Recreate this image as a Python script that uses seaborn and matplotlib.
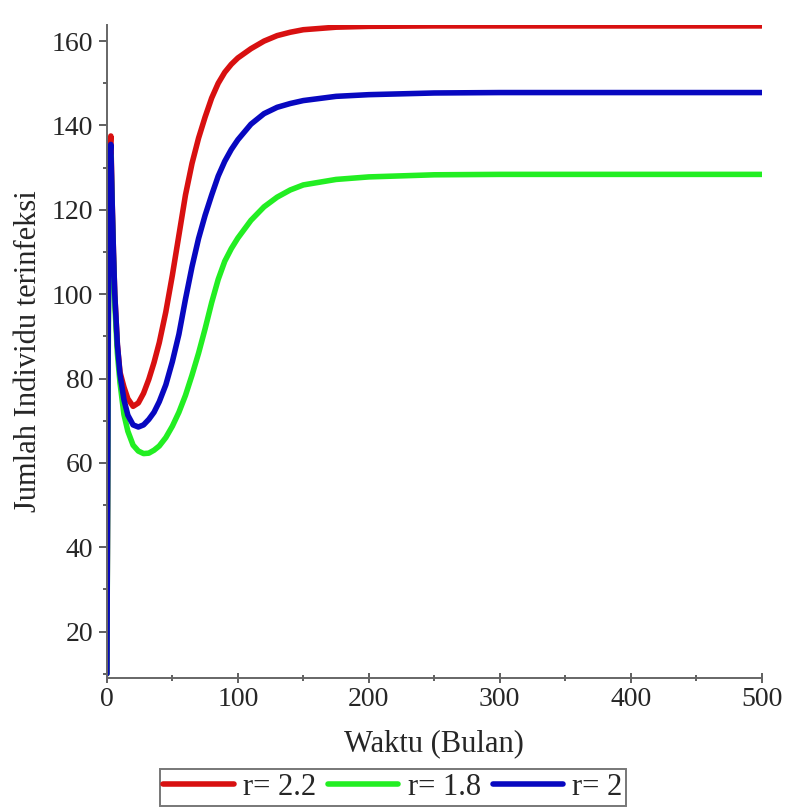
import numpy as np
import pandas as pd
import seaborn as sns
import matplotlib.pyplot as plt
from matplotlib.lines import Line2D
from matplotlib.ticker import MultipleLocator

# waktu (bulan)
t = [0, 1, 2, 3, 4, 5, 6, 8, 10, 13, 16, 20, 24, 28, 32, 36, 40, 45, 50, 55,
     60, 65, 70, 75, 80, 85, 90, 95, 100, 110, 120, 130, 140, 150, 175, 200,
     250, 300, 400, 500]

# r = 2.2
i_r22 = [10, 95, 134, 137.5, 122, 110, 100, 88, 81.5, 78,
         75.2, 73.4, 74.2, 76.5, 79.8, 83.8, 88.5, 95.8, 104.5, 114,
         123.5, 131, 137, 142, 146.5, 150, 152.6, 154.5, 156, 158.2,
         160, 161.3, 162.1, 162.7, 163.3, 163.5, 163.6, 163.6, 163.6, 163.6]

# r = 1.8
i_r18 = [10, 85, 128, 133, 120, 108, 98, 86, 79, 71.5,
         67.5, 64.2, 62.8, 62.2, 62.3, 63, 64, 66, 68.7, 72,
         76, 80.8, 86, 91.8, 98, 103.5, 107.8, 110.8, 113.3, 117.5,
         120.7, 123, 124.7, 125.9, 127.2, 127.8, 128.3, 128.4, 128.4, 128.4]

# r = 2
i_r2 = [10, 92, 132, 135.5, 122, 110, 100, 88, 81, 75,
        71.3, 69, 68.5, 69, 70.3, 72, 74.5, 78.5, 84, 90.5,
        98.8, 106.5, 113.2, 118.7, 123.5, 128, 131.5, 134.3, 136.6, 140.3,
        142.8, 144.3, 145.2, 145.9, 146.9, 147.3, 147.7, 147.8, 147.8, 147.8]

labels = ["r= 2.2", "r= 1.8", "r= 2"]
colors = ["#d81010", "#22ee22", "#0808c0"]

df = pd.concat([
    pd.DataFrame({"t": t, "I": i_r22, "r": labels[0]}),
    pd.DataFrame({"t": t, "I": i_r18, "r": labels[1]}),
    pd.DataFrame({"t": t, "I": i_r2, "r": labels[2]}),
])

sns.set_style("ticks")
plt.rcParams["font.family"] = ["Liberation Serif", "DejaVu Serif"]

fig = plt.figure(figsize=(7.86, 8.09), dpi=100)
ax = fig.add_axes([0.136, 0.162, 0.833, 0.807])

sns.lineplot(data=df, x="t", y="I", hue="r", palette=colors, linewidth=4,
             legend=False, ax=ax, sort=False)

ax.set_xlim(0, 500)
ax.set_ylim(9, 163.8)
ax.set_xticks([0, 100, 200, 300, 400, 500])
ax.set_yticks([20, 40, 60, 80, 100, 120, 140, 160])
ax.xaxis.set_minor_locator(MultipleLocator(50))
ax.yaxis.set_minor_locator(MultipleLocator(10))
ax.tick_params(axis="x", which="major", direction="inout", length=7, width=1.2,
               color="#444444", labelsize=20, pad=3)
ax.tick_params(axis="x", which="minor", direction="inout", length=5, width=1.2,
               color="#444444")
ax.tick_params(axis="y", which="major", direction="out", length=6, width=1.2,
               color="#444444", labelsize=20, pad=4)
ax.tick_params(axis="y", which="minor", direction="out", length=3, width=1.2,
               color="#444444")

for s in ["top", "right"]:
    ax.spines[s].set_visible(False)
for s in ["left", "bottom"]:
    ax.spines[s].set_color("#666666")
    ax.spines[s].set_linewidth(1.4)

ax.set_xlabel("Waktu (Bulan)", fontsize=22)
ax.set_ylabel("Jumlah Individu terinfeksi", fontsize=22)
ax.xaxis.set_label_coords(0.5, -0.078)
ax.yaxis.set_label_coords(-0.098, 0.5)

handles = [Line2D([], [], color=c, lw=4) for c in colors]
leg = fig.legend(handles, labels, loc="lower center", bbox_to_anchor=(0.5, 0.004),
                 ncol=3, fontsize=22, frameon=True, fancybox=False,
                 handlelength=2.3, handletextpad=0.3, columnspacing=0.4,
                 borderpad=0.12, borderaxespad=0.0)
leg.get_frame().set_edgecolor("#555555")
leg.get_frame().set_linewidth(1.4)

fig.savefig("out.png", dpi=100)
